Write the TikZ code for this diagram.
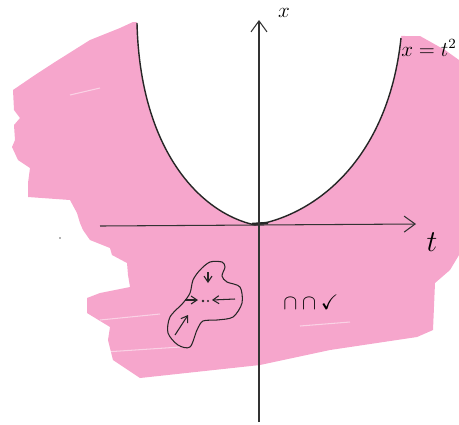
\documentclass[tikz,border=0pt]{standalone}
\usepackage{amssymb}
\usetikzlibrary{arrows.meta}
\definecolor{markerpink}{RGB}{246,166,204}
\tikzset{
  axis/.style={draw=black!80, line width=0.6pt, -{Straight Barb[length=2.2mm,width=3.2mm]}},
  curve/.style={draw=black!85, line width=0.8pt},
  ink/.style={draw=black!85, line width=0.6pt},
  smallarrow/.style={ink, -{Straight Barb[length=1.2mm,width=1.6mm]}},
  streak/.style={white, opacity=0.5, line width=0.6pt},
}

\begin{document}
\begin{tikzpicture}[x=0.02cm,y=-0.02cm]
   \useasboundingbox (0,0) rectangle (459,424);
 %% pink scribble round the parabola
   \fill[markerpink] (133,22) -- (120,28) -- (90,40) -- (55,62) -- (35,75) -- (13,90)
        -- (14,110) -- (20,118) -- (14,125) -- (15,140) -- (12,147) -- (18,160) -- (30,168)
        -- (28,183) -- (28,197) -- (70,200) -- (77,213) -- (80,223) -- (83,230) -- (90,240)
        -- (110,248) -- (112,255) -- (127,263) -- (128,275) -- (130,287) -- (100,293)
        -- (87,298) -- (87,313) -- (110,327) -- (108,340) -- (113,360) -- (140,378)
        -- (260,365) -- (330,350) -- (417,337) -- (433,330) -- (435,283) -- (450,270)
        -- (459,255) -- (459,60) -- (445,50) -- (420,36) -- (405,36) -- cycle;
   \foreach \a/\b in {{(100,320)}/{(160,314)}, {(105,352)}/{(180,347)}, {(300,326)}/{(350,322)},
        {(70,95)}/{(100,88)}}
        \draw[streak] \a -- \b;
 %% inside of the parabola stays white
   \fill[white] (137,23) .. controls (140,150) and (200,213) .. (255,225)
        .. controls (315,215) and (388,160) .. (401,38) -- (404,0) -- (135,0) -- cycle;
 %% parabola x = t^2
   \draw[curve] (137,23) .. controls (140,150) and (200,213) .. (255,225)
        .. controls (315,215) and (388,160) .. (401,38);
   \draw[line width=1.4pt, black!85] (252,224) -- (268,223);
 %% axes
   \coordinate (ttail) at (100,226);
   \coordinate (thead) at (416,224);
   \coordinate (xtail) at (259,422);
   \coordinate (xhead) at (259,20);
   \draw[axis] (ttail) -- (thead);
   \draw[axis] (xtail) -- (xhead);
   \node (xlab) at (284,13) {\large$x$};
   \node (tlab) at (432,242) {\LARGE$t$};
   \node (curvelab) at (429,48) {\large$x=t^2$};
   \node (tick) at (311,302) {\large$\cap\cap\checkmark$};
   \fill[black!60] (60,238) circle (0.8);
 %% the blob and its arrows
   \draw[ink] plot[smooth cycle] coordinates {(170,317) (168,333) (178,345) (190,347)
        (197,330) (203,321) (217,320) (233,317) (242,303) (240,287) (227,282) (222,276)
        (225,267) (222,262) (210,262) (200,270) (193,280) (190,293) (183,303)};
   \coordinate (downtail) at (208,272);
   \coordinate (downhead) at (208,283);
   \coordinate (lefttail) at (185,300);
   \coordinate (lefthead) at (198,300);
   \coordinate (righttail) at (235,299);
   \coordinate (righthead) at (212,300);
   \coordinate (uptail) at (175,335);
   \coordinate (uphead) at (188,315);
   \draw[smallarrow] (downtail) -- (downhead);
   \draw[smallarrow] (lefttail) -- (lefthead);
   \draw[smallarrow] (righttail) -- (righthead);
   \draw[smallarrow] (uptail) -- (uphead);
   \fill[black!85] (203,301) circle (1.3);
   \fill[black!85] (208,301) circle (1.1);
\end{tikzpicture}
\end{document}
